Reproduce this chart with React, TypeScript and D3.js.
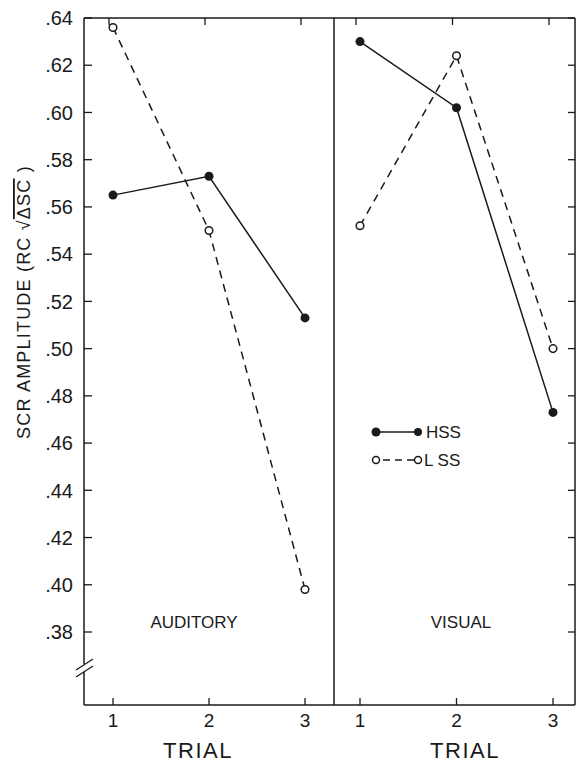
import React from 'react';
import * as d3 from 'd3';

// values
const trials = [1, 2, 3];
const yTicks = [0.38, 0.40, 0.42, 0.44, 0.46, 0.48, 0.50, 0.52, 0.54, 0.56, 0.58, 0.60, 0.62, 0.64];
const auditoryHSS = [0.565, 0.573, 0.513];
const auditoryLSS = [0.636, 0.550, 0.398];
const visualHSS = [0.630, 0.602, 0.473];
const visualLSS = [0.552, 0.624, 0.500];
const panelNames = ['AUDITORY', 'VISUAL'];

const W = 580, H = 763;
const left = 84, right = 575, divider = 334, top = 18, bottom = 705;
const ink = '#1a1a1a';
const font = '"Liberation Sans", Arial, sans-serif';

export default function App() {
    const y = d3.scaleLinear().domain([0.38, 0.64]).range([632, top]);
    const xAud = d3.scalePoint<number>().domain(trials).range([113, 305]);
    const xVis = d3.scalePoint<number>().domain(trials).range([360, 553]);
    const fmt = (v: number) => d3.format('.2f')(v).replace(/^0/, '');

    const panels = [
        {x: xAud, hss: auditoryHSS, lss: auditoryLSS, name: panelNames[0], cx: 194},
        {x: xVis, hss: visualHSS, lss: visualLSS, name: panelNames[1], cx: 461}
    ];

    const line = (x: d3.ScalePoint<number>) => d3.line<number>()
        .x((d, i) => x(trials[i]) as number)
        .y(d => y(d));

    return (
        <svg width={W} height={H} style={{position: 'absolute', left: 0, top: 0, background: '#fff'}}
             fontFamily={font}>
            {/* frame */}
            <line x1={left} x2={right} y1={top} y2={top} stroke={ink} strokeWidth={1.5} />
            <line x1={left} x2={right} y1={bottom} y2={bottom} stroke={ink} strokeWidth={1.5} />
            <line x1={left} x2={left} y1={top} y2={664} stroke={ink} strokeWidth={1.5} />
            <line x1={left} x2={left} y1={672} y2={bottom} stroke={ink} strokeWidth={1.5} />
            <line x1={divider} x2={divider} y1={top} y2={bottom} stroke={ink} strokeWidth={1.5} />
            <line x1={right} x2={right} y1={top} y2={bottom} stroke={ink} strokeWidth={1.5} />

            {/* axis break */}
            <line x1={76} x2={93} y1={670} y2={659} stroke={ink} strokeWidth={1.3} />
            <line x1={76} x2={93} y1={677} y2={666} stroke={ink} strokeWidth={1.3} />

            {/* y ticks and labels */}
            {yTicks.map(t => (
                <g key={t}>
                    <line x1={left} x2={left + 8} y1={y(t)} y2={y(t)} stroke={ink} strokeWidth={1.3} />
                    <line x1={right - 7} x2={right} y1={y(t)} y2={y(t)} stroke={ink} strokeWidth={1.3} />
                    <text x={73} y={y(t)} dy='0.36em' textAnchor='end' fontSize={20} fill={ink}>{fmt(t)}</text>
                </g>
            ))}

            {/* y axis title */}
            <text transform='translate(30,302) rotate(-90)' textAnchor='middle' fontSize={18} fill={ink}
                  letterSpacing={1.2}>
                SCR AMPLITUDE  (RC √<tspan textDecoration='overline'>ΔSC</tspan> )
            </text>

            {panels.map(p => (
                <g key={p.name}>
                    {trials.map(t => (
                        <g key={t}>
                            <line x1={p.x(t)} x2={p.x(t)} y1={bottom} y2={bottom - 7} stroke={ink} strokeWidth={1.3} />
                            <line x1={(p.x(t) as number) - 4} x2={(p.x(t) as number) - 4} y1={top} y2={top + 7}
                                  stroke={ink} strokeWidth={1.3} />
                            <text x={p.x(t)} y={727} textAnchor='middle' fontSize={19} fill={ink}>{t}</text>
                        </g>
                    ))}
                    <text x={p.cx + 4} y={758} textAnchor='middle' fontSize={22} fill={ink} letterSpacing={1.5}>TRIAL</text>
                    <text x={p.cx} y={628} textAnchor='middle' fontSize={17} fill={ink}>{p.name}</text>

                    <path d={line(p.x)(p.lss) as string} fill='none' stroke={ink} strokeWidth={1.5}
                          strokeDasharray='8,6' />
                    <path d={line(p.x)(p.hss) as string} fill='none' stroke={ink} strokeWidth={1.5} />
                    {p.lss.map((v, i) => (
                        <circle key={'l' + i} cx={p.x(trials[i])} cy={y(v)} r={3.8} fill='#fff'
                                stroke={ink} strokeWidth={1.5} />
                    ))}
                    {p.hss.map((v, i) => (
                        <circle key={'h' + i} cx={p.x(trials[i])} cy={y(v)} r={4.5} fill={ink} />
                    ))}
                </g>
            ))}

            {/* legend */}
            <g>
                <line x1={376} x2={418} y1={432} y2={432} stroke={ink} strokeWidth={1.5} />
                <circle cx={376} cy={432} r={4.5} fill={ink} />
                <circle cx={418} cy={432} r={4} fill={ink} />
                <text x={426} y={432} dy='0.36em' fontSize={17} fill={ink}>HSS</text>
                <line x1={380} x2={414} y1={460} y2={460} stroke={ink} strokeWidth={1.5} strokeDasharray='7,5'
                      strokeDashoffset={-3} />
                <circle cx={376} cy={460} r={3.5} fill='#fff' stroke={ink} strokeWidth={1.5} />
                <circle cx={418} cy={460} r={3.5} fill='#fff' stroke={ink} strokeWidth={1.5} />
                <text x={424} y={460} dy='0.36em' fontSize={17} fill={ink}>L SS</text>
            </g>
        </svg>
    );
}
